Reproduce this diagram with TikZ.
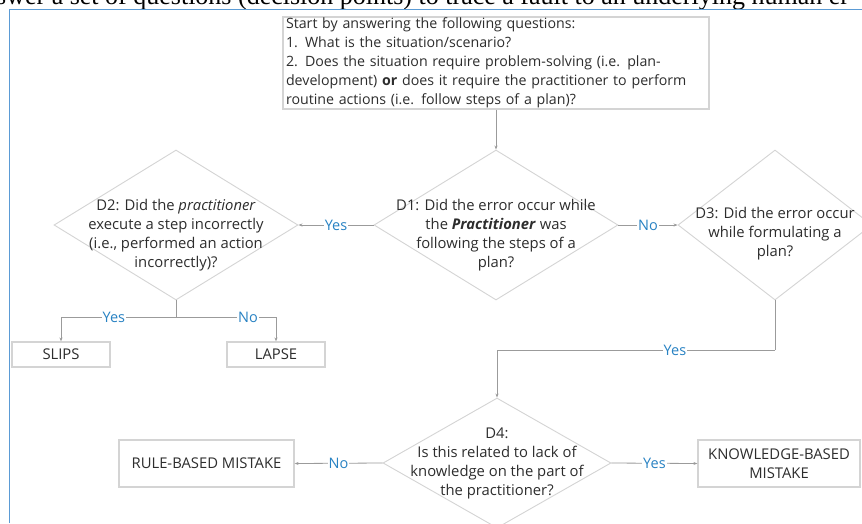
\documentclass[tikz,border=0pt]{standalone}
\usepackage{fontspec}
\setmainfont{Open Sans}
\newfontfamily\serifdoc{Liberation Serif}
\usetikzlibrary{shapes.geometric,arrows.meta}
\definecolor{frameblue}{RGB}{91,155,213}
\definecolor{linegray}{RGB}{155,155,155}
\definecolor{shapegray}{RGB}{212,212,212}
\definecolor{txt}{RGB}{45,45,45}
\definecolor{lblue}{RGB}{40,130,195}
\begin{document}
\begin{tikzpicture}[x=1pt,y=-1pt,
  dia/.style={diamond, draw=shapegray, line width=0.9pt, inner sep=0pt},
  diatext/.style={align=center, text=txt, font=\fontsize{14.8}{19}\selectfont},
  box/.style={draw=shapegray, line width=1.2pt, inner sep=0pt, text=txt, align=center, font=\fontsize{14.8}{19}\selectfont},
  conn/.style={draw=linegray, line width=0.8pt},
  arr/.style={conn, -{Stealth[length=4pt,width=3pt]}},
  lbl/.style={fill=white, inner sep=1pt, text=lblue, font=\fontsize{14.5}{14.5}\selectfont}
]
\useasboundingbox (0,0) rectangle (862,523);
\fill[white] (0,0) rectangle (862,523);

% document text cut off at top
\node[anchor=base west, inner sep=0pt, font=\serifdoc\fontsize{26}{26}\selectfont] (doc) at (-4,4)
  {swer a set of questions (decision points) to trace a fault to an underlying human er};

% frame
\draw[frameblue, line width=1.5pt] (9.5,523) -- (9.5,9.5) -- (862,9.5);

% top box
\node[box, align=left, minimum width=426pt, minimum height=92pt, text width=420pt, inner xsep=3pt,
      font=\fontsize{14.2}{19}\selectfont] (top) at (496,63)
  {Start by answering the following questions:\\
   1. What is the situation/scenario?\\
   2. Does the situation require problem-solving (i.e. plan-\\
   development) \textbf{or} does it require the practitioner to perform\\
   routine actions (i.e. follow steps of a plan)?};

% diamonds
\node[dia, minimum width=244pt, minimum height=150pt] (d1) at (496,225) {};
\node[diatext] (d1t) at (496,235) {D1: Did the error occur while\\the \textbf{\textit{Practitioner}} was\\following the steps of a\\plan?};

\node[dia, minimum width=244pt, minimum height=150pt] (d2) at (176,225) {};
\node[diatext] (d2t) at (176,235) {D2: Did the \textit{practitioner}\\execute a step incorrectly\\(i.e., performed an action\\incorrectly)?};

\node[dia, minimum width=194pt, minimum height=150pt] (d3) at (775,225) {};
\node[diatext] (d3t) at (775,234) {D3: Did the error occur\\while formulating a\\plan?};

\node[dia, minimum width=228pt, minimum height=130pt] (d4) at (497,463) {};
\node[diatext] (d4t) at (497,463) {D4:\\Is this related to lack of\\knowledge on the part of\\the practitioner?};

% result boxes
\node[box, minimum width=98pt, minimum height=25pt] (slips) at (61,354.5) {SLIPS};
\node[box, minimum width=98pt, minimum height=25pt] (lapse) at (276,354.5) {LAPSE};
\node[box, minimum width=175pt, minimum height=47pt] (rb) at (206.5,463.5) {RULE-BASED MISTAKE};
\node[box, minimum width=162pt, minimum height=47pt] (kb) at (779,463.5) {KNOWLEDGE-BASED\\MISTAKE};

% connectors
\draw[arr] (top.south) -- (d1.north);
\draw[arr] (d1.west) -- node[lbl] {Yes} (d2.east);
\draw[arr] (d1.east) -- node[lbl] {No} (d3.west);

\coordinate (j3) at (775,350);
\draw[conn] (d3.south) -- (j3);
\draw[arr] (j3) -| node[lbl, pos=0.18] {Yes} (d4.north);

\draw[arr] (d4.east) -- node[lbl] {Yes} (kb.west);
\draw[arr] (d4.west) -- node[lbl] {No} (rb.east);

\coordinate (j2) at (176,317);
\draw[conn] (d2.south) -- (j2);
\draw[arr] (j2) -| node[lbl, pos=0.27] {Yes} (slips.north);
\draw[arr] (j2) -| node[lbl, pos=0.36] {No} (lapse.north);
\end{tikzpicture}
\end{document}
